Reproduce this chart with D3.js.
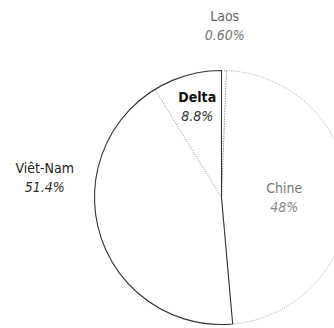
<!DOCTYPE html>
<html>
<head>
<meta charset="utf-8">
<script src="https://cdn.jsdelivr.net/npm/d3@7"></script>
<style>
  body { margin: 0; background: #fff; }
  text { font-family: "Liberation Sans Narrow", "DejaVu Sans Condensed", "Open Sans", sans-serif; }
</style>
</head>
<body>
<svg></svg>
<script>
// shares of the whole, in drawing order from 12 o'clock clockwise
var categories = ["Laos", "Chine", "Viêt-Nam"];
var values = [0.6, 48, 51.4];
var valueLabels = ["0.60%", "48%", "51.4%"];

// Delta is a part of the Viêt-Nam slice, at its end
var subCategory = "Delta";
var subValue = 8.8;
var subLabel = "8.8%";

var width = 334, height = 328;
var cx = 221.5, cy = 197.5, radius = 127;

var svg = d3.select("svg")
  .attr("width", width)
  .attr("height", height);

var g = svg.append("g")
  .attr("transform", "translate(" + cx + "," + cy + ")");

var data = categories.map(function(c, i) {
  return { name: c, value: values[i], label: valueLabels[i] };
});

var pie = d3.pie().sort(null).value(function(d) { return d.value; });
var arcs = pie(data);

var arc = d3.arc().innerRadius(0).outerRadius(radius);

// styles per slice
var strokeColor = { "Laos": "#777", "Chine": "#999", "Viêt-Nam": "#333" };
var dash = { "Laos": "1,1.5", "Chine": "1,1.5", "Viêt-Nam": null };
var drawOrder = ["Chine", "Laos", "Viêt-Nam"];

g.selectAll("path.slice")
  .data(arcs.slice().sort(function(a, b) {
    return drawOrder.indexOf(a.data.name) - drawOrder.indexOf(b.data.name);
  }))
  .enter()
  .append("path")
  .attr("class", "slice")
  .attr("d", arc)
  .attr("fill", "#fff")
  .attr("stroke", function(d) { return strokeColor[d.data.name]; })
  .attr("stroke-width", function(d) { return d.data.name === "Viêt-Nam" ? 1.1 : 0.9; })
  .attr("stroke-dasharray", function(d) { return dash[d.data.name]; });

// Delta separator inside Viêt-Nam
var total = d3.sum(values);
var angle = d3.scaleLinear().domain([0, total]).range([0, 2 * Math.PI]);
var vn = arcs[2];
var deltaStart = vn.endAngle - angle(subValue);
var p = d3.pointRadial(deltaStart, radius);
g.append("line")
  .attr("x1", 0).attr("y1", 0)
  .attr("x2", p[0]).attr("y2", p[1])
  .attr("stroke", "#777")
  .attr("stroke-width", 0.9)
  .attr("stroke-dasharray", "1,1.5");

// labels
var labels = arcs.map(function(d) {
  return { name: d.data.name, label: d.data.label, start: d.startAngle, end: d.endAngle };
});
labels.push({ name: subCategory, label: subLabel, start: deltaStart, end: vn.endAngle });

var labelR = { "Laos": 167.5, "Chine": 62.7, "Viêt-Nam": 177, "Delta": 89 };
var labelDy = { "Laos": 0, "Chine": 7, "Viêt-Nam": -23, "Delta": 0 };
var nameColor = { "Laos": "#666", "Chine": "#777", "Viêt-Nam": "#222", "Delta": "#111" };
var valueColor = { "Laos": "#777", "Chine": "#888", "Viêt-Nam": "#333", "Delta": "#333" };
var nameWeight = { "Laos": "normal", "Chine": "normal", "Viêt-Nam": "normal", "Delta": "bold" };

var lab = g.selectAll("g.label")
  .data(labels)
  .enter()
  .append("g")
  .attr("class", "label")
  .attr("transform", function(d) {
    var q = d3.pointRadial((d.start + d.end) / 2, labelR[d.name]);
    return "translate(" + q[0] + "," + (q[1] + labelDy[d.name]) + ")";
  });

lab.append("text")
  .attr("text-anchor", "middle")
  .attr("y", -9.5)
  .attr("font-size", 14)
  .attr("font-weight", function(d) { return nameWeight[d.name]; })
  .attr("fill", function(d) { return nameColor[d.name]; })
  .text(function(d) { return d.name; });

lab.append("text")
  .attr("text-anchor", "middle")
  .attr("y", 9.5)
  .attr("font-size", 14)
  .attr("font-style", "italic")
  .attr("fill", function(d) { return valueColor[d.name]; })
  .text(function(d) { return d.label; });
</script>
</body>
</html>
